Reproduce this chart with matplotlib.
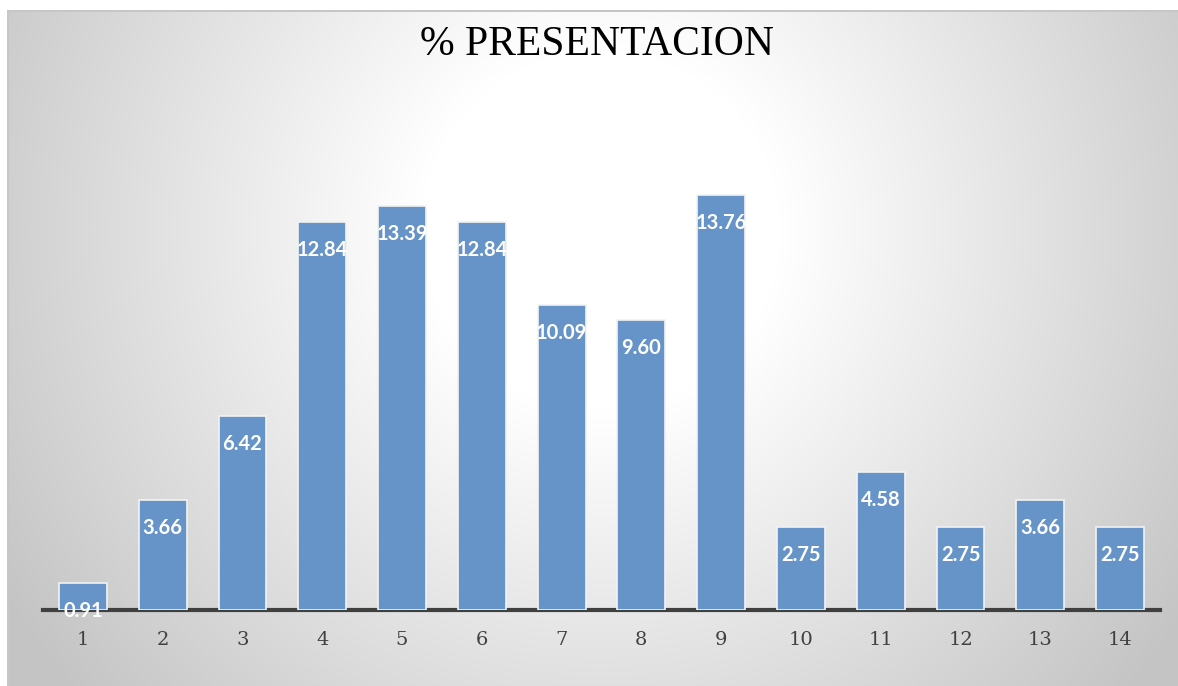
import matplotlib.pyplot as plt
import numpy as np

categorias = [str(i) for i in range(1, 15)]
porcentajes = [0.91, 3.66, 6.42, 12.84, 13.39, 12.84, 10.09, 9.60, 13.76,
               2.75, 4.58, 2.75, 3.66, 2.75]

W, H = 1178, 686
fig = plt.figure(figsize=(W / 100, H / 100), dpi=100)

# fondo con degradado radial (blanco al centro, gris en los bordes)
bg = fig.add_axes([0, 0, 1, 1], zorder=-10)
yy, xx = np.mgrid[0:H, 0:W]
dist = np.hypot(xx - 600, yy - 230)
t = np.clip((dist - 180) / 520, 0, 1)
gris = 1.0 - t * (1.0 - 0.77)
img = np.dstack([gris, gris, gris])
# zona blanca fuera del marco del gráfico
img[:10, :, :] = 1.0
img[:, :7, :] = 1.0
img[10:12, 7:, :] = 0.78
img[10:, 7:9, :] = 0.78
bg.imshow(img, extent=(0, W, H, 0), aspect='auto', interpolation='bilinear')
bg.set_xlim(0, W)
bg.set_ylim(H, 0)
bg.axis('off')

ax = fig.add_axes([43 / W, (H - 610) / H, (1160 - 43) / W, (610 - 127) / H])
ax.set_facecolor('none')
x = np.arange(1, len(porcentajes) + 1)
ax.bar(x, porcentajes, width=0.6, color='#6794c8',
       edgecolor='#f2f2f2', linewidth=1.2, zorder=2)
ax.axhline(0, color='#404040', linewidth=3, zorder=1, clip_on=False)

for xi, v in zip(x, porcentajes):
    ax.annotate(f'{v:.2f}', (xi, v), xytext=(0, -28), textcoords='offset pixels',
                ha='center', va='center', color='white', fontsize=14.5,
                fontweight='bold', family='Lato', zorder=3)

ax.set_xlim(0.5, 14.5)
ax.set_ylim(0, 16)
ax.set_xticks(x)
ax.set_xticklabels(categorias, family='DejaVu Serif', fontsize=14, color='#404040')
ax.tick_params(axis='x', length=0, pad=15)
ax.set_yticks([])
for s in ax.spines.values():
    s.set_visible(False)

fig.text(597 / W, 1 - 45 / H, '% PRESENTACION', ha='center', va='center',
         family='Liberation Serif', fontsize=30, color='black')

fig.savefig('out.png', dpi=100)
